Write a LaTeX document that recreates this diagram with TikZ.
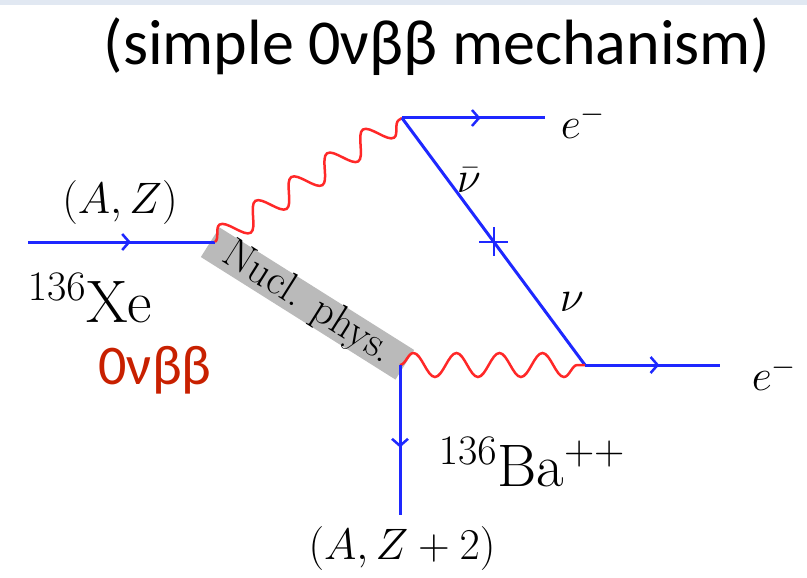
\RequirePackage{fix-cm}
\documentclass[tikz,border=0pt]{standalone}
\usepackage{fontspec}
\newfontfamily\calibri{Carlito}
\usetikzlibrary{calc, decorations.markings, decorations.pathmorphing, arrows.meta, shapes.misc}
\definecolor{fermblue}{RGB}{30,40,255}
\definecolor{bosred}{RGB}{255,40,40}
\definecolor{labelred}{RGB}{200,32,0}
\definecolor{topbar}{RGB}{225,232,242}
\tikzset{
  fermion/.style={fermblue, line width=3pt, postaction={decorate},
    decoration={markings, mark=at position 0.55 with
      {\arrow{Straight Barb[length=7pt, width=16pt, line width=2.5pt]}}}},
  plainline/.style={fermblue, line width=3pt},
  photon/.style={bosred, line width=2.5pt, decorate,
    decoration={snake, amplitude=12pt, segment length=43pt}},
  lbl/.style={font=\fontsize{44}{52}\selectfont, inner sep=0pt},
  biglbl/.style={font=\fontsize{60}{70}\selectfont, inner sep=0pt},
}

\begin{document}
\begin{tikzpicture}[x=1pt, y=-1pt]
  \useasboundingbox (0,0) rectangle (807,578);
  \fill[topbar] (0,0) rectangle (807,5);

  % Title
  \node[font=\calibri\fontsize{64}{74}\selectfont, inner sep=0pt] (title) at (437,47)
    {(simple 0νββ mechanism)};

  % Vertices
  \coordinate (in) at (28,242);
  \coordinate (vA) at (215,242);
  \coordinate (vB) at (402,118);
  \coordinate (vC) at (585,365);
  \coordinate (vD) at (400,365);
  \coordinate (eout1) at (545,118);
  \coordinate (eout2) at (720,365);
  \coordinate (out) at (400,515);

  % Nuclear blob
  \node[fill=black!27, rotate=-32.2, minimum width=230pt, minimum height=35pt,
    inner sep=0pt] (nucl) at ($(vA)!0.5!(vD)$) {};
  \node[rotate=-32.2, inner sep=0pt, font=\fontsize{42}{48}\selectfont] (nucltext)
    at (nucl.center) {Nucl. phys.};

  % Lines
  \draw[fermion] (in) -- (vA);
  \draw[photon] (vA) -- (vB);
  \draw[fermion] (vB) -- (eout1);
  \draw[plainline] (vB) -- (vC) node[pos=0.5, draw=fermblue, line width=2pt,
    cross out, rotate=45, minimum size=18pt, inner sep=0pt] (mass) {};
  \draw[photon] (vD) -- (vC);
  \draw[fermion] (vC) -- (eout2);
  \draw[fermion] (vD) -- (out);

  % Labels
  \node[lbl] (az) at (120,203) {$(A,Z)$};
  \node[biglbl] (xe) at (90,298) {$^{136}$Xe};
  \node[font=\calibri\fontsize{56}{62}\selectfont, text=labelred, inner sep=0pt] (onbb)
    at (155,370) {0νββ};
  \node[lbl] (e1) at (583,122) {$e^-$};
  \node[lbl] (e2) at (774,374) {$e^-$};
  \node[lbl] (nubar) at (469,180) {$\bar\nu$};
  \node[lbl] (nu) at (572,302) {$\nu$};
  \node[biglbl] (ba) at (532,462) {$^{136}$Ba$^{++}$};
  \node[lbl] (azz) at (402,548) {$(A,Z+2)$};
\end{tikzpicture}
\end{document}
